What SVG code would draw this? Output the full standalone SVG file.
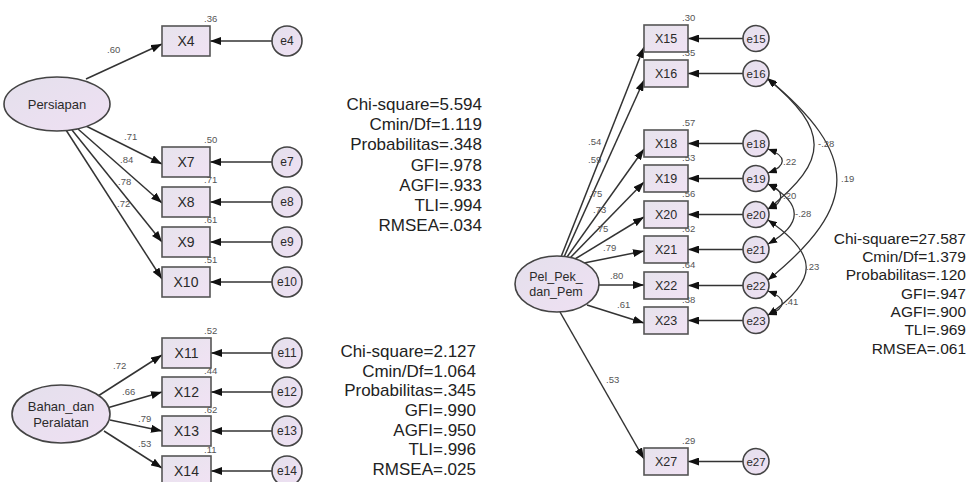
<svg xmlns="http://www.w3.org/2000/svg" width="967" height="482" viewBox="0 0 967 482">
<defs>
<linearGradient id="gBox" x1="0" y1="0" x2="1" y2="1"><stop offset="0" stop-color="#e6e3ec"/><stop offset="1" stop-color="#f1e2f4"/></linearGradient>
<linearGradient id="gEll" x1="0" y1="0" x2="1" y2="1"><stop offset="0" stop-color="#e4e0ec"/><stop offset="1" stop-color="#efe0f3"/></linearGradient>
<marker id="ah" markerUnits="userSpaceOnUse" markerWidth="11" markerHeight="8" refX="11" refY="4" orient="auto"><path d="M0,0 L11,4 L0,8 z" fill="#111"/></marker>
<marker id="ac" markerUnits="userSpaceOnUse" markerWidth="9" markerHeight="7" refX="9" refY="3.5" orient="auto-start-reverse"><path d="M0,0 L9,3.5 L0,7 z" fill="#111"/></marker>
</defs>
<style>
.box{fill:url(#gBox);stroke:#555;stroke-width:1.6}
.ell{fill:url(#gEll);stroke:#444;stroke-width:1.6}
.err{fill:url(#gEll);stroke:#444;stroke-width:1.6}
.t{font-family:"Liberation Sans",Arial,sans-serif;fill:#2a2a2a;text-anchor:middle}
.tb{font-size:14px}
.tbs{font-size:12.5px}
.te{font-size:12px}
.tes{font-size:11.5px}
.tl{font-size:13px}
.lab{font-family:"Liberation Sans",Arial,sans-serif;font-size:9.5px;fill:#555}
.st{font-family:"Liberation Sans",Arial,sans-serif;fill:#222;text-anchor:end}
.st1{font-size:17px}
.st3{font-size:15.5px}
.ln{stroke:#333;stroke-width:1.5;fill:none;marker-end:url(#ah)}
.cv{stroke:#333;stroke-width:1.3;fill:none;marker-start:url(#ac);marker-end:url(#ac)}
</style>

<g id="connectors">
<line class="ln" x1="86" y1="79" x2="162" y2="44"/>
<line class="ln" x1="86" y1="126" x2="162" y2="164"/>
<line class="ln" x1="78" y1="129" x2="162" y2="203"/>
<line class="ln" x1="72" y1="130" x2="162" y2="242"/>
<line class="ln" x1="66" y1="130" x2="162" y2="279"/>
<line class="ln" x1="272" y1="41" x2="210" y2="41"/>
<line class="ln" x1="272" y1="162" x2="210" y2="162"/>
<line class="ln" x1="272" y1="202" x2="210" y2="202"/>
<line class="ln" x1="272" y1="242" x2="210" y2="242"/>
<line class="ln" x1="272" y1="282" x2="210" y2="282"/>
<line class="ln" x1="98" y1="396" x2="162" y2="355"/>
<line class="ln" x1="107" y1="408" x2="162" y2="392"/>
<line class="ln" x1="110" y1="420" x2="162" y2="431"/>
<line class="ln" x1="104" y1="431" x2="162" y2="468"/>
<line class="ln" x1="272" y1="353" x2="211" y2="353"/>
<line class="ln" x1="272" y1="392" x2="211" y2="392"/>
<line class="ln" x1="272" y1="431" x2="211" y2="431"/>
<line class="ln" x1="272" y1="471" x2="211" y2="471"/>
<line class="ln" x1="561" y1="257" x2="644" y2="47"/>
<line class="ln" x1="564" y1="257" x2="644" y2="80"/>
<line class="ln" x1="567" y1="257" x2="644" y2="149"/>
<line class="ln" x1="570" y1="258" x2="644" y2="182"/>
<line class="ln" x1="575" y1="259" x2="644" y2="217"/>
<line class="ln" x1="584" y1="263" x2="644" y2="251"/>
<line class="ln" x1="599" y1="285" x2="644" y2="285"/>
<line class="ln" x1="587" y1="305" x2="644" y2="323"/>
<line class="ln" x1="560" y1="312" x2="644" y2="459"/>
<line class="ln" x1="743" y1="38.5" x2="688" y2="38.5"/>
<line class="ln" x1="743" y1="73.5" x2="688" y2="73.5"/>
<line class="ln" x1="743" y1="143.5" x2="688" y2="143.5"/>
<line class="ln" x1="743" y1="178.5" x2="688" y2="178.5"/>
<line class="ln" x1="743" y1="214.5" x2="688" y2="214.5"/>
<line class="ln" x1="743" y1="249.5" x2="688" y2="249.5"/>
<line class="ln" x1="743" y1="285.5" x2="688" y2="285.5"/>
<line class="ln" x1="743" y1="320.5" x2="688" y2="320.5"/>
<line class="ln" x1="743" y1="461.5" x2="688" y2="461.5"/>
<path class="cv" d="M768,79 C829,130 830,160 768,209"/>
<path class="cv" d="M767,78 C860,155 860,205 768,280"/>
<path class="cv" d="M768,149 C787,156 787,166 768,173"/>
<path class="cv" d="M768,184 C785,190 785,203 768,209"/>
<path class="cv" d="M768,184 C803,204 803,224 768,244"/>
<path class="cv" d="M768,220 C819,255 819,280 768,315"/>
<path class="cv" d="M768,291 C787,298 787,308 768,315"/>
</g>

<g id="labels">
<text class="lab" x="107" y="53">.60</text>
<text class="lab" x="124" y="140">.71</text>
<text class="lab" x="120" y="163">.84</text>
<text class="lab" x="118" y="185">.78</text>
<text class="lab" x="117" y="207">.72</text>
<text class="lab" x="204" y="22">.36</text>
<text class="lab" x="204" y="143">.50</text>
<text class="lab" x="204" y="183">.71</text>
<text class="lab" x="204" y="223">.61</text>
<text class="lab" x="204" y="263">.51</text>
<text class="lab" x="113" y="369">.72</text>
<text class="lab" x="122" y="395">.66</text>
<text class="lab" x="138" y="422">.79</text>
<text class="lab" x="138" y="447">.53</text>
<text class="lab" x="204" y="334">.52</text>
<text class="lab" x="204" y="374">.44</text>
<text class="lab" x="204" y="413">.62</text>
<text class="lab" x="204" y="453">.11</text>
<text class="lab" x="588" y="145">.54</text>
<text class="lab" x="588" y="163">.59</text>
<text class="lab" x="589" y="197">.75</text>
<text class="lab" x="593" y="213">.73</text>
<text class="lab" x="595" y="232">.75</text>
<text class="lab" x="603" y="251">.79</text>
<text class="lab" x="610" y="279">.80</text>
<text class="lab" x="617" y="308">.61</text>
<text class="lab" x="606" y="383">.53</text>
<text class="lab" x="682" y="21">.30</text>
<text class="lab" x="682" y="56">.35</text>
<text class="lab" x="682" y="126">.57</text>
<text class="lab" x="682" y="161">.53</text>
<text class="lab" x="682" y="197">.56</text>
<text class="lab" x="682" y="232">.62</text>
<text class="lab" x="682" y="268">.64</text>
<text class="lab" x="682" y="303">.38</text>
<text class="lab" x="682" y="444">.29</text>
<text class="lab" x="783" y="165">.22</text>
<text class="lab" x="783" y="199">.20</text>
<text class="lab" x="818" y="147">-.28</text>
<text class="lab" x="841" y="182">.19</text>
<text class="lab" x="795" y="217">-.28</text>
<text class="lab" x="806" y="270">.23</text>
<text class="lab" x="785" y="305">.41</text>
</g>

<g id="Persiapan"><ellipse class="ell" cx="57" cy="104" rx="53" ry="27"/><text class="t tl" x="57" y="109">Persiapan</text></g>
<g id="Bahan_dan_Peralatan"><ellipse class="ell" cx="61" cy="414" rx="49" ry="29"/><text class="t tl" x="61" y="411">Bahan_dan</text><text class="t tl" x="61" y="427">Peralatan</text></g>
<g id="Pel_Pek_dan_Pem"><ellipse class="ell" cx="557" cy="284" rx="42" ry="28"/><text class="t tl" x="556" y="281" style="font-size:12.5px">Pel_Pek_</text><text class="t tl" x="556" y="296" style="font-size:12.5px">dan_Pem</text></g>

<g id="X4"><rect class="box" x="162" y="26" width="48" height="30"/><text class="t tb" x="186" y="46">X4</text></g>
<g id="X7"><rect class="box" x="162" y="147" width="48" height="30"/><text class="t tb" x="186" y="167">X7</text></g>
<g id="X8"><rect class="box" x="162" y="187" width="48" height="30"/><text class="t tb" x="186" y="207">X8</text></g>
<g id="X9"><rect class="box" x="162" y="227" width="48" height="30"/><text class="t tb" x="186" y="247">X9</text></g>
<g id="X10"><rect class="box" x="162" y="267" width="48" height="30"/><text class="t tb" x="186" y="287">X10</text></g>
<g id="X11"><rect class="box" x="162" y="338" width="49" height="30"/><text class="t tb" x="186.5" y="358">X11</text></g>
<g id="X12"><rect class="box" x="162" y="377" width="49" height="30"/><text class="t tb" x="186.5" y="397">X12</text></g>
<g id="X13"><rect class="box" x="162" y="416" width="49" height="30"/><text class="t tb" x="186.5" y="436">X13</text></g>
<g id="X14"><rect class="box" x="162" y="456" width="49" height="30"/><text class="t tb" x="186.5" y="476">X14</text></g>

<g id="e4"><circle class="err" cx="287" cy="41" r="15"/><text class="t te" x="287" y="45">e4</text></g>
<g id="e7"><circle class="err" cx="287" cy="162" r="15"/><text class="t te" x="287" y="166">e7</text></g>
<g id="e8"><circle class="err" cx="287" cy="202" r="15"/><text class="t te" x="287" y="206">e8</text></g>
<g id="e9"><circle class="err" cx="287" cy="242" r="15"/><text class="t te" x="287" y="246">e9</text></g>
<g id="e10"><circle class="err" cx="287" cy="282" r="15"/><text class="t te" x="287" y="286">e10</text></g>
<g id="e11"><circle class="err" cx="287" cy="353" r="15"/><text class="t te" x="287" y="357">e11</text></g>
<g id="e12"><circle class="err" cx="287" cy="392" r="15"/><text class="t te" x="287" y="396">e12</text></g>
<g id="e13"><circle class="err" cx="287" cy="431" r="15"/><text class="t te" x="287" y="435">e13</text></g>
<g id="e14"><circle class="err" cx="287" cy="471" r="15"/><text class="t te" x="287" y="475">e14</text></g>

<g id="X15"><rect class="box" x="644" y="25" width="44" height="27"/><text class="t tbs" x="666" y="43">X15</text></g>
<g id="X16"><rect class="box" x="644" y="60" width="44" height="27"/><text class="t tbs" x="666" y="78">X16</text></g>
<g id="X18"><rect class="box" x="644" y="130" width="44" height="27"/><text class="t tbs" x="666" y="148">X18</text></g>
<g id="X19"><rect class="box" x="644" y="165" width="44" height="27"/><text class="t tbs" x="666" y="183">X19</text></g>
<g id="X20"><rect class="box" x="644" y="201" width="44" height="27"/><text class="t tbs" x="666" y="219">X20</text></g>
<g id="X21"><rect class="box" x="644" y="236" width="44" height="27"/><text class="t tbs" x="666" y="254">X21</text></g>
<g id="X22"><rect class="box" x="644" y="272" width="44" height="27"/><text class="t tbs" x="666" y="290">X22</text></g>
<g id="X23"><rect class="box" x="644" y="307" width="44" height="27"/><text class="t tbs" x="666" y="325">X23</text></g>
<g id="X27"><rect class="box" x="644" y="448" width="44" height="27"/><text class="t tbs" x="666" y="466">X27</text></g>

<g id="e15"><circle class="err" cx="756" cy="38.5" r="13"/><text class="t tes" x="756" y="42.5">e15</text></g>
<g id="e16"><circle class="err" cx="756" cy="73.5" r="13"/><text class="t tes" x="756" y="77.5">e16</text></g>
<g id="e18"><circle class="err" cx="756" cy="143.5" r="13"/><text class="t tes" x="756" y="147.5">e18</text></g>
<g id="e19"><circle class="err" cx="756" cy="178.5" r="13"/><text class="t tes" x="756" y="182.5">e19</text></g>
<g id="e20"><circle class="err" cx="756" cy="214.5" r="13"/><text class="t tes" x="756" y="218.5">e20</text></g>
<g id="e21"><circle class="err" cx="756" cy="249.5" r="13"/><text class="t tes" x="756" y="253.5">e21</text></g>
<g id="e22"><circle class="err" cx="756" cy="285.5" r="13"/><text class="t tes" x="756" y="289.5">e22</text></g>
<g id="e23"><circle class="err" cx="756" cy="320.5" r="13"/><text class="t tes" x="756" y="324.5">e23</text></g>
<g id="e27"><circle class="err" cx="756" cy="461.5" r="13"/><text class="t tes" x="756" y="465.5">e27</text></g>

<g id="fit-persiapan" class="st st1">
<text x="482" y="110">Chi-square=5.594</text>
<text x="482" y="130">Cmin/Df=1.119</text>
<text x="482" y="150">Probabilitas=.348</text>
<text x="482" y="171">GFI=.978</text>
<text x="482" y="191">AGFI=.933</text>
<text x="482" y="211">TLI=.994</text>
<text x="482" y="231">RMSEA=.034</text>
</g>
<g id="fit-bahan" class="st st1">
<text x="476" y="357">Chi-square=2.127</text>
<text x="476" y="377">Cmin/Df=1.064</text>
<text x="476" y="396">Probabilitas=.345</text>
<text x="476" y="416">GFI=.990</text>
<text x="476" y="436">AGFI=.950</text>
<text x="476" y="455">TLI=.996</text>
<text x="476" y="475">RMSEA=.025</text>
</g>
<g id="fit-pel" class="st st3">
<text x="966" y="244">Chi-square=27.587</text>
<text x="966" y="262">Cmin/Df=1.379</text>
<text x="966" y="280">Probabilitas=.120</text>
<text x="966" y="299">GFI=.947</text>
<text x="966" y="317">AGFI=.900</text>
<text x="966" y="335">TLI=.969</text>
<text x="966" y="354">RMSEA=.061</text>
</g>
</svg>
